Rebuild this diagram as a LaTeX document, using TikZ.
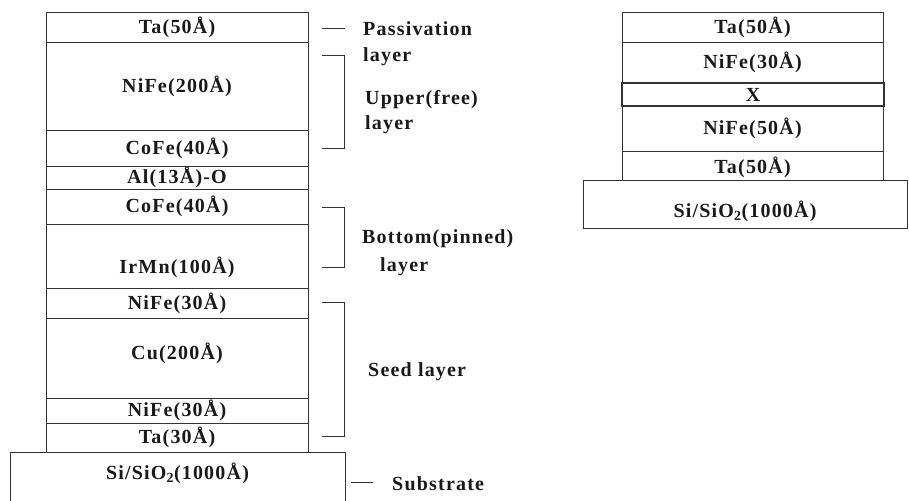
\documentclass[tikz,border=0pt]{standalone}
\usepackage{fontspec}
\setmainfont{Liberation Serif}[LetterSpace=6]
\begin{document}
\begin{tikzpicture}[x=1pt,y=-1pt,
  every node/.style={font=\fontsize{20}{22}\selectfont\bfseries, text=black!90},
  layer/.style={draw=black!80, line width=0.8pt, inner sep=0pt, outer sep=0pt},
  brk/.style={draw=black!80, line width=0.8pt},
  lbl/.style={anchor=west, inner sep=0pt}]
\useasboundingbox (0,0) rectangle (909,500);
% left stack
\node[layer, minimum width=262, minimum height=30] (l1) at (177,27) {Ta(50Å)};
\node[layer, minimum width=262, minimum height=88] (l2) at (177,86) {NiFe(200Å)};
\node[layer, minimum width=262, minimum height=36] (l3) at (177,148) {CoFe(40Å)};
\node[layer, minimum width=262, minimum height=23] (l4) at (177,177.5) {Al(13Å)-O};
\node[layer, minimum width=262, minimum height=35] (l5) at (177,206.5) {CoFe(40Å)};
\node[layer, minimum width=262, minimum height=64] (l6) at (177,256) {};
\node at (177,267) {IrMn(100Å)};
\node[layer, minimum width=262, minimum height=30] (l7) at (177,303) {NiFe(30Å)};
\node[layer, minimum width=262, minimum height=80] (l8) at (177,358) {};
\node at (177,353) {Cu(200Å)};
\node[layer, minimum width=262, minimum height=25] (l9) at (177,410.5) {NiFe(30Å)};
\node[layer, minimum width=262, minimum height=29] (l10) at (177,437.5) {Ta(30Å)};
\node[layer, minimum width=335, minimum height=51] (sub) at (177.5,477.5) {};
\node at (177.5,473) {Si/SiO\textsubscript{2}(1000Å)};
% brackets
\coordinate (p1) at (322,28); \coordinate (p2) at (345,28);
\draw[brk] (p1) -- (p2);
\coordinate (u1) at (322,55); \coordinate (u2) at (322,148);
\draw[brk] (u1) -- (344,55) -- (344,148) -- (u2);
\coordinate (b1) at (322,207); \coordinate (b2) at (322,267);
\draw[brk] (b1) -- (344,207) -- (344,267) -- (b2);
\coordinate (s1) at (322,302); \coordinate (s2) at (322,436);
\draw[brk] (s1) -- (344,302) -- (344,436) -- (s2);
\coordinate (t1) at (351,482); \coordinate (t2) at (373,482);
\draw[brk] (t1) -- (t2);
% labels
\node[lbl] (pa) at (363,29) {Passivation};
\node[lbl] (pb) at (363,57) {layer};
\node[lbl] (ua) at (365,100) {Upper(free)};
\node[lbl] (ub) at (365,125) {layer};
\node[lbl] (ba) at (362,239) {Bottom(pinned)};
\node[lbl] (bb) at (380,267) {layer};
\node[lbl] (sd) at (368,372) {Seed layer};
\node[lbl] (st) at (392,484) {Substrate};
% right stack
\node[layer, minimum width=261, minimum height=30] (r1) at (752.5,27) {Ta(50Å)};
\node[layer, minimum width=261, minimum height=41] (r2) at (752.5,62.5) {NiFe(30Å)};
\node[layer, minimum width=262, minimum height=23, line width=1.1pt] (r3) at (753,94.5) {X};
\node[layer, minimum width=261, minimum height=45] (r4) at (752.5,128.5) {NiFe(50Å)};
\node[layer, minimum width=261, minimum height=29] (r5) at (752.5,165.5) {};
\node at (752.5,167) {Ta(50Å)};
\node[layer, minimum width=324, minimum height=48] (rs) at (745,204) {};
\node at (745,211) {Si/SiO\textsubscript{2}(1000Å)};
\end{tikzpicture}
\end{document}
